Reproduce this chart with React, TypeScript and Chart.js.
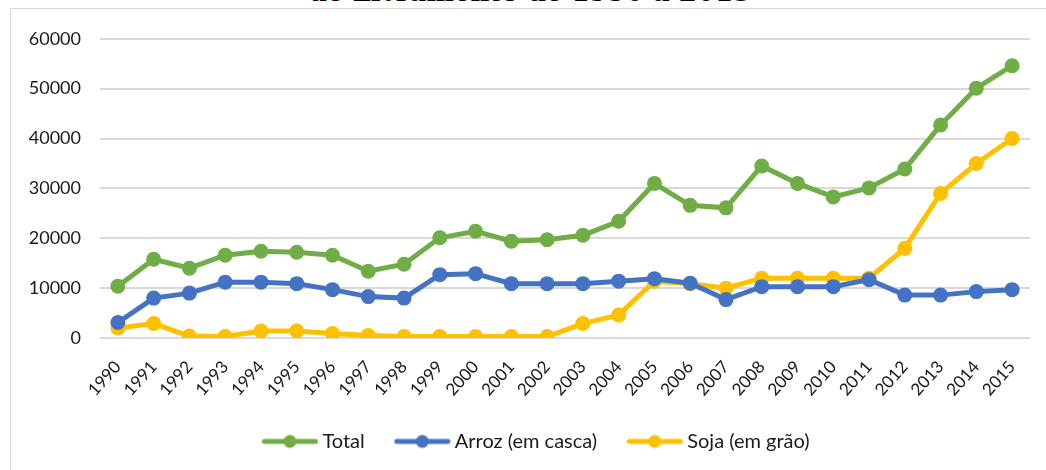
import React, { useEffect, useRef } from "react";
import { Chart, registerables } from "chart.js";

Chart.register(...registerables);

const years = [
  "1990", "1991", "1992", "1993", "1994", "1995", "1996", "1997", "1998", "1999",
  "2000", "2001", "2002", "2003", "2004", "2005", "2006", "2007", "2008", "2009",
  "2010", "2011", "2012", "2013", "2014", "2015",
];

const total = [
  10400, 15800, 14000, 16600, 17400, 17200, 16600, 13400, 14800, 20100,
  21400, 19400, 19700, 20600, 23400, 31000, 26600, 26100, 34500, 31000,
  28300, 30100, 33900, 42700, 50100, 54600,
];

const arroz = [
  3100, 8000, 9000, 11200, 11200, 10900, 9700, 8300, 8000, 12700,
  12900, 10900, 10900, 10900, 11400, 11900, 11000, 7700, 10300, 10300,
  10300, 11700, 8600, 8600, 9300, 9700,
];

const soja = [
  2000, 2900, 400, 300, 1400, 1400, 900, 500, 300, 300,
  300, 300, 300, 2900, 4600, 11400, 10900, 10000, 12000, 12000,
  12000, 12000, 18000, 29000, 35000, 40000,
];

const yTicks = [0, 10000, 20000, 30000, 40000, 50000, 60000];

const seriesNames = ["Total", "Arroz (em casca)", "Soja (em grão)"];
const seriesColors = ["#70AD47", "#4472C4", "#FFC000"];

const FONT = "Lato";
const TEXT_COLOR = "#1a1a1a";
const LEGEND_SHIFT = 18;

function legendMarker(color: string): HTMLCanvasElement {
  const c = document.createElement("canvas");
  c.width = 57;
  c.height = 16;
  const ctx = c.getContext("2d")!;
  ctx.strokeStyle = color;
  ctx.lineWidth = 5;
  ctx.lineCap = "round";
  ctx.beginPath();
  ctx.moveTo(3, 8);
  ctx.lineTo(54, 8);
  ctx.stroke();
  ctx.fillStyle = color;
  ctx.beginPath();
  ctx.arc(28.5, 8, 6.5, 0, Math.PI * 2);
  ctx.fill();
  return c;
}

const legendShiftPlugin = {
  id: "legendShift",
  afterLayout(chart: any) {
    const l = chart.legend;
    if (l) {
      l.left += LEGEND_SHIFT;
      l.right += LEGEND_SHIFT;
    }
  },
};

export default function App() {
  const ref = useRef<HTMLCanvasElement | null>(null);

  useEffect(() => {
    if (!ref.current) return;
    const data = [total, arroz, soja];
    const markers = seriesColors.map(legendMarker);
    const chart = new Chart(ref.current, {
      type: "line",
      data: {
        labels: years,
        datasets: data.map((d, i) => ({
          label: seriesNames[i],
          data: d,
          borderColor: seriesColors[i],
          backgroundColor: seriesColors[i],
          borderWidth: 5,
          pointRadius: 7.5,
          pointHoverRadius: 7.5,
          pointBorderWidth: 0,
          pointBackgroundColor: seriesColors[i],
          tension: 0,
          order: i,
        })),
      },
      plugins: [legendShiftPlugin],
      options: {
        responsive: false,
        animation: false,
        layout: { padding: { top: 28, right: 17, left: 0, bottom: 9.6 } },
        plugins: {
          tooltip: { enabled: false },
          legend: {
            position: "bottom",
            maxHeight: 69,
            labels: {
              font: { family: FONT, size: 20 },
              color: TEXT_COLOR,
              usePointStyle: true,
              pointStyleWidth: 45,
              padding: 35,
              generateLabels: (ch: any) =>
                ch.data.datasets.map((ds: any, i: number) => ({
                  text: ds.label,
                  fillStyle: seriesColors[i],
                  strokeStyle: seriesColors[i],
                  pointStyle: markers[i],
                  lineWidth: 0,
                  hidden: false,
                  datasetIndex: i,
                  fontColor: TEXT_COLOR,
                })),
            },
          },
        },
        scales: {
          x: {
            type: "category",
            offset: true,
            grid: { display: false, drawTicks: false },
            border: { display: false },
            ticks: {
              font: { family: FONT, size: 17 },
              color: TEXT_COLOR,
              maxRotation: 48,
              minRotation: 48,
              autoSkip: false,
              padding: 19,
            },
            afterFit: (s: any) => {
              s.height = 58.4;
            },
          },
          y: {
            min: 0,
            max: 60000,
            afterBuildTicks: (s: any) => {
              s.ticks = yTicks.map((v) => ({ value: v }));
            },
            grid: { color: "#d9d9d9", lineWidth: 2, drawTicks: false },
            border: { display: false },
            ticks: {
              font: { family: FONT, size: 18 },
              color: TEXT_COLOR,
              padding: 19,
              callback: (v: any) => String(v),
            },
            afterFit: (s: any) => {
              s.width = 89;
            },
          },
        },
      },
    });
    return () => chart.destroy();
  }, []);

  return (
    <div>
      <div
        style={{
          position: "absolute",
          left: 0,
          top: -21,
          width: 1060,
          textAlign: "center",
          fontFamily: "'DejaVu Serif', serif",
          fontWeight: "bold",
          fontSize: 26,
          lineHeight: "26px",
          color: "#000",
          whiteSpace: "nowrap",
        }}
      >
        de Livramento de 1990 a 2015
      </div>
      <div
        style={{
          position: "absolute",
          left: 10,
          top: 8,
          width: 1040,
          height: 470,
          border: "1px solid #d9d9d9",
          background: "#fff",
        }}
      >
        <canvas ref={ref} width={1036} height={462} style={{ display: "block" }} />
      </div>
    </div>
  );
}
